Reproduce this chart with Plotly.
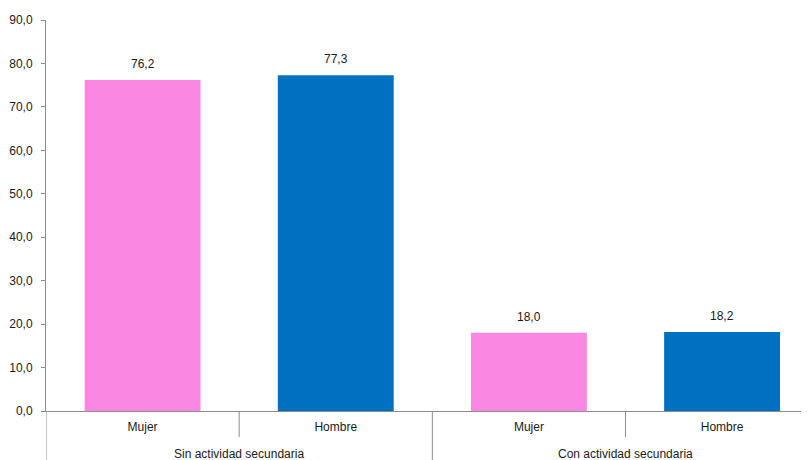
import plotly.graph_objects as go

categories = ["Mujer", "Hombre", "Mujer", "Hombre"]
groups = ["Sin actividad secundaria", "Con actividad secundaria"]
values = [76.2, 77.3, 18.0, 18.2]
colors = ["#FA87E2", "#0070C0", "#FA87E2", "#0070C0"]
y_ticks = [0, 10, 20, 30, 40, 50, 60, 70, 80, 90]

FONT = "Liberation Sans Narrow, Arial Narrow, Liberation Sans, Arial, sans-serif"
FS = 12
TXT = "#1a1a1a"
AX = "#8c8c8c"

# page body has an 8px margin; compensate so the plot sits where the reference has it
W, H = 801, 452
TOP, BOT = 12, 49
PH = H - TOP - BOT

xs = list(range(len(values)))

fig = go.Figure()
fig.add_trace(go.Bar(
    x=xs, y=values, width=0.6,
    marker=dict(color=colors, line=dict(width=0)),
    hoverinfo="skip",
))

def py(px_below):
    return -px_below / PH

shapes = []
shapes.append(dict(type="line", xref="x", yref="paper", x0=-0.5, x1=-0.5,
                   y0=0, y1=py(49), line=dict(color=AX, width=1)))
for xv in [0.5, 2.5]:
    shapes.append(dict(type="line", xref="x", yref="paper", x0=xv, x1=xv,
                       y0=0, y1=py(26), line=dict(color=AX, width=1)))
for xv in [1.5, 3.5]:
    shapes.append(dict(type="line", xref="x", yref="paper", x0=xv, x1=xv,
                       y0=0, y1=py(49), line=dict(color=AX, width=1)))

annotations = []
for xv, v in zip(xs, values):
    annotations.append(dict(text=f"{v:.1f}".replace(".", ","), x=xv, y=v, xref="x", yref="y",
                            yanchor="bottom", xanchor="center", yshift=7, showarrow=False,
                            font=dict(family=FONT, size=FS, color=TXT)))
for gi, g in enumerate(groups):
    annotations.append(dict(text=g, x=0.5 + 2 * gi, xref="x", y=py(43), yref="paper",
                            yanchor="middle", xanchor="center", showarrow=False,
                            font=dict(family=FONT, size=FS, color=TXT)))

fig.update_layout(
    width=W, height=H,
    margin=dict(l=38, r=0, t=TOP, b=BOT),
    paper_bgcolor="white", plot_bgcolor="white",
    separators=",.",
    showlegend=False,
    shapes=shapes,
    annotations=annotations,
    xaxis=dict(range=[-0.5, 3.45], tickvals=xs, ticktext=categories,
               showline=True, linecolor=AX, linewidth=1,
               ticks="outside", ticklen=5, tickcolor="rgba(0,0,0,0)",
               showgrid=False, zeroline=False, fixedrange=True,
               tickfont=dict(family=FONT, size=FS, color=TXT)),
    yaxis=dict(range=[0, 90], tickvals=y_ticks, tickformat=".1f",
               showline=True, linecolor=AX, linewidth=1,
               ticks="outside", ticklen=4, tickcolor=AX,
               ticklabelstandoff=6,
               showgrid=False, zeroline=False,
               tickfont=dict(family=FONT, size=FS, color=TXT)),
)

fig.write_html("out.html")
